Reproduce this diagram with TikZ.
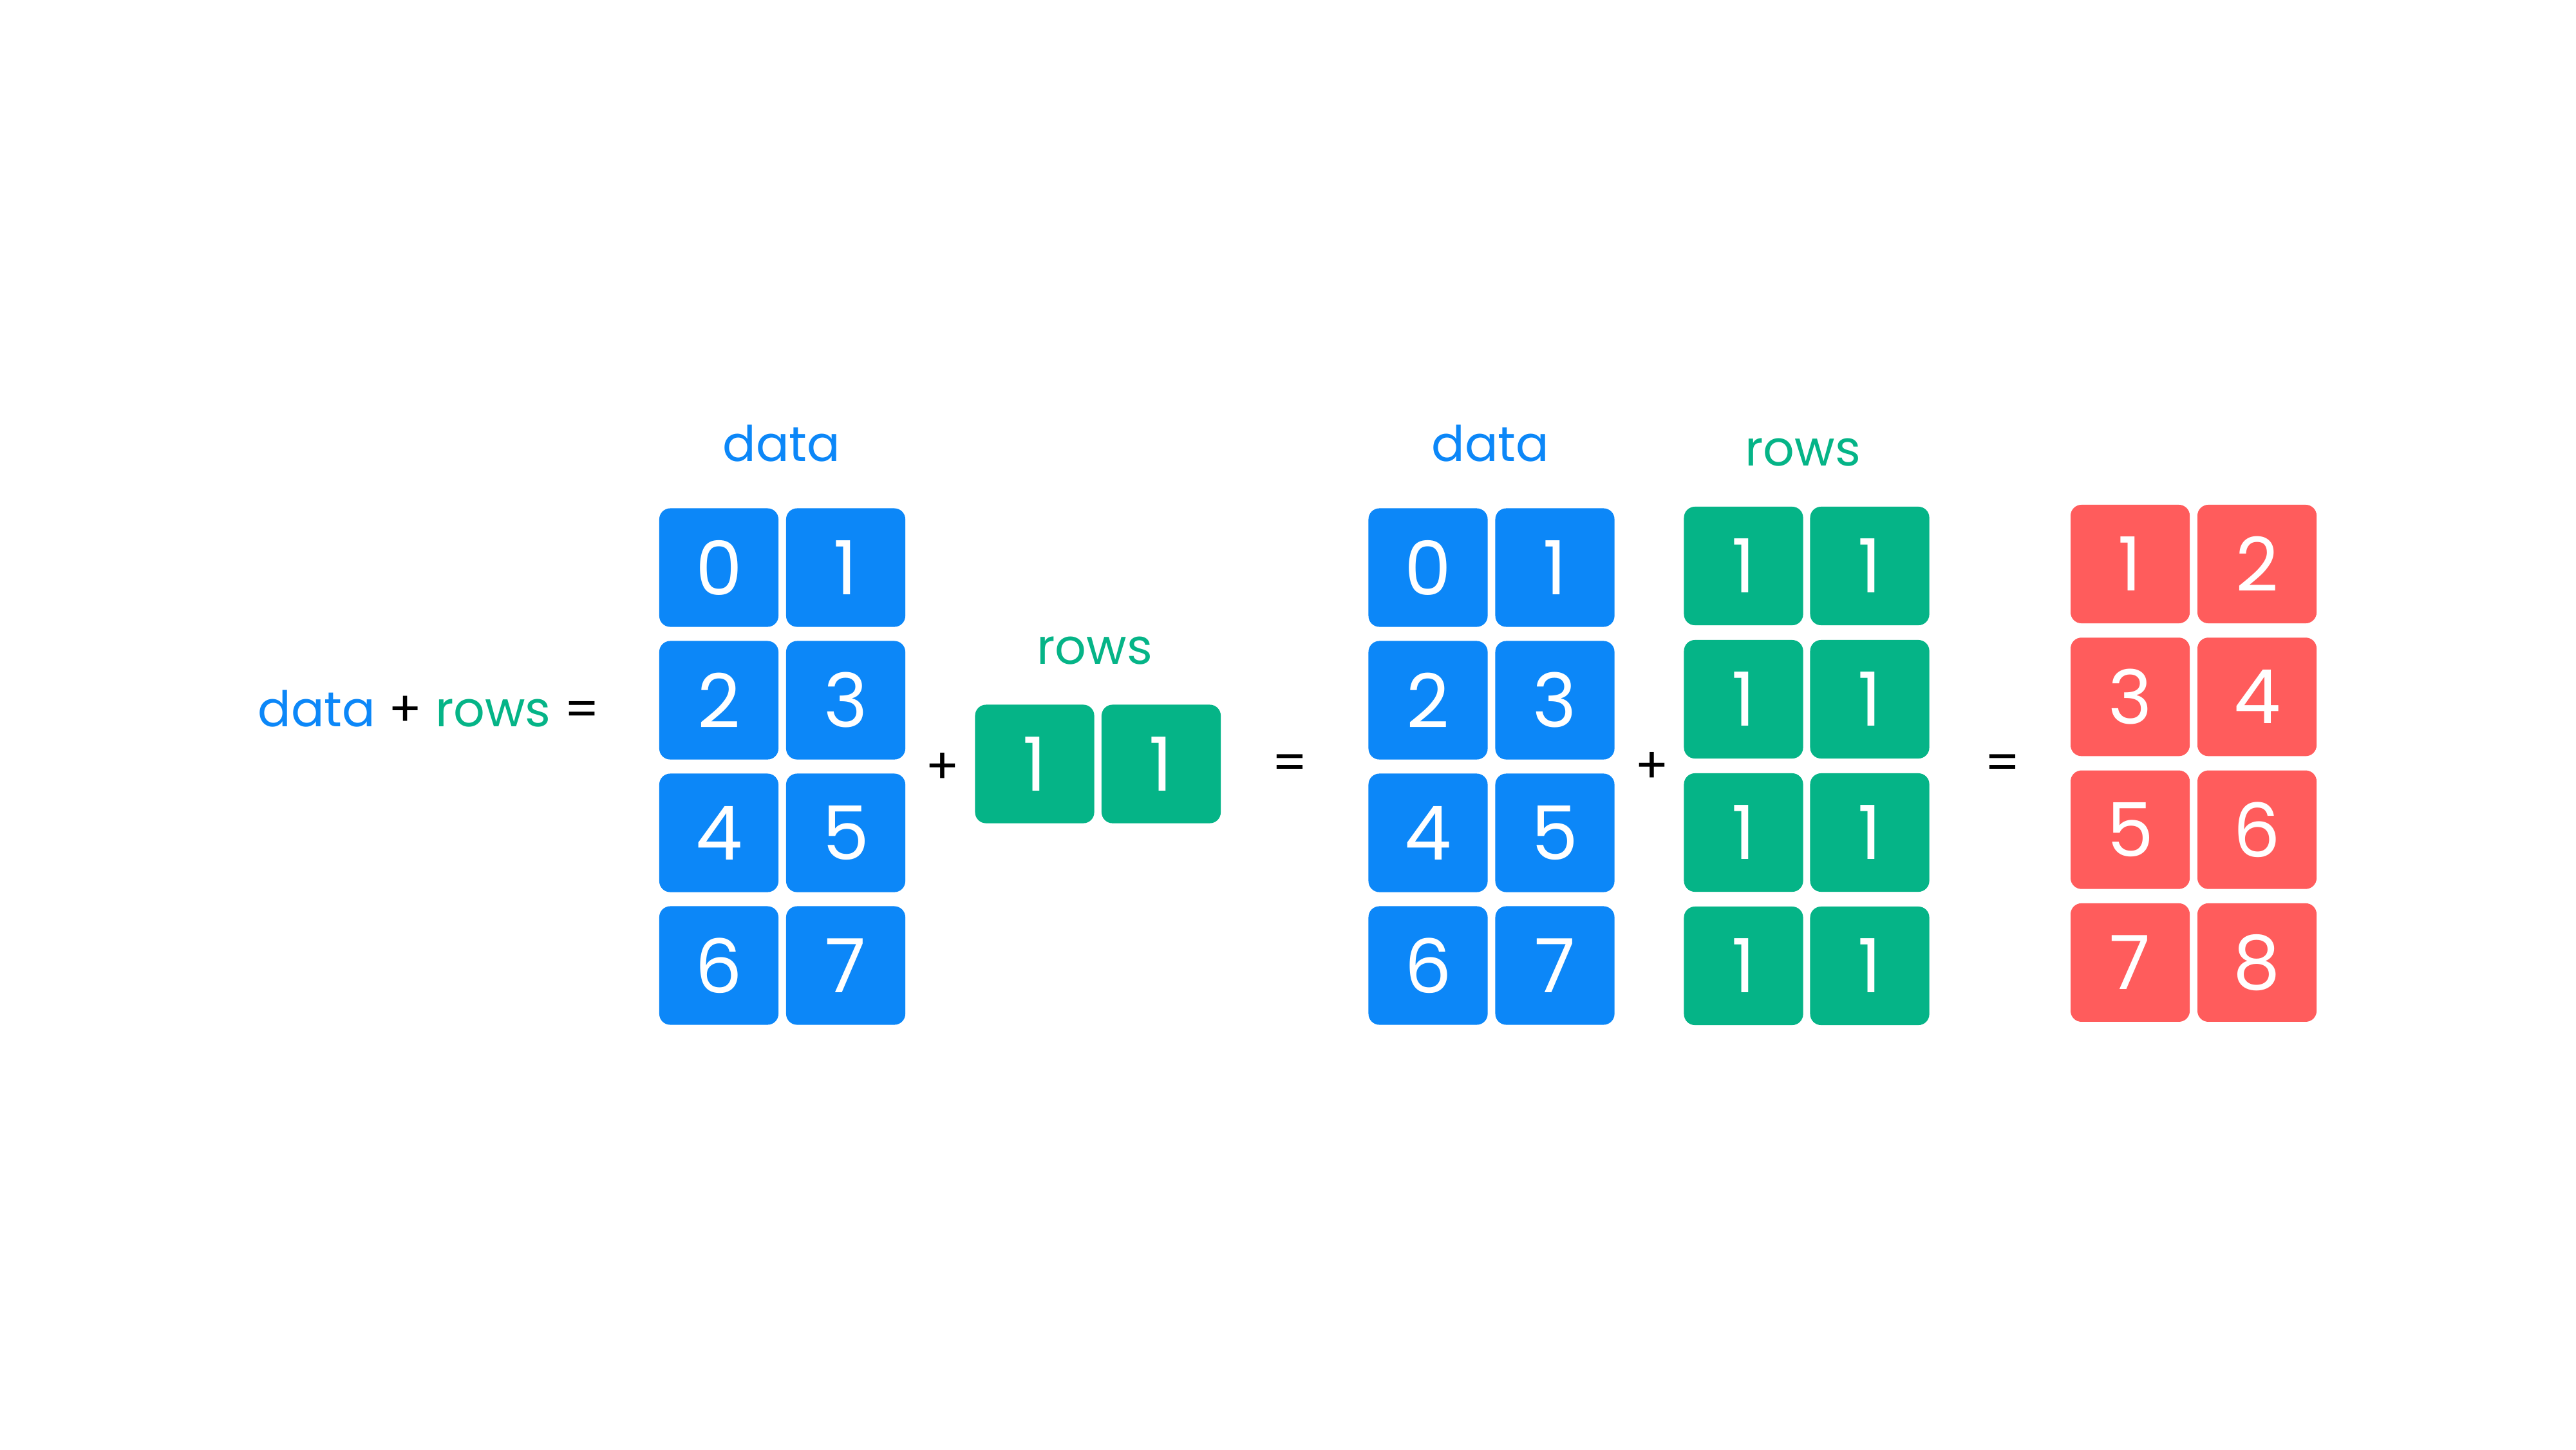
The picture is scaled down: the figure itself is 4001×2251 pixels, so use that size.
\documentclass[tikz,border=0pt]{standalone}
\usepackage{fontspec}
\setmainfont{Poppins}
\definecolor{cblue}{RGB}{12,135,248}
\definecolor{cgreen}{RGB}{5,180,135}
\definecolor{cred}{RGB}{255,92,92}
\tikzset{
  cell/.style={rectangle, rounded corners=0.17cm, minimum width=1.85cm, minimum height=1.84cm,
    inner sep=0pt, text=white, font=\fontsize{33}{33}\selectfont},
  bluecell/.style={cell, fill=cblue},
  greencell/.style={cell, fill=cgreen},
  redcell/.style={cell, fill=cred},
  lbl/.style={anchor=base, inner sep=0pt, font=\fontsize{21.7}{22}\selectfont},
  op/.style={inner sep=0pt, font=\fontsize{22}{22}\selectfont}
}
\begin{document}
\begin{tikzpicture}[x=0.01cm, y=-0.01cm]
\useasboundingbox (0,0) rectangle (4001,2251);
\fill[white] (0,0) rectangle (4001,2251);

% left expression
\node[lbl, anchor=base west] (expr) at (400,1128)
  {\textcolor{cblue}{data} + \textcolor{cgreen}{rows} =};

% first data matrix
\node[lbl, text=cblue] (dataA) at (1214,716) {data};
\foreach \r in {0,...,3}{
  \foreach \c in {0,1}{
    \pgfmathtruncatemacro\v{2*\r+\c}
    \node[bluecell] (A-\r-\c) at ({1116.5+197*\c},{881.5+206*\r}) {\v};
  }
}
\node[op] (plusA) at (1464,1193) {+};

% rows vector
\node[lbl, text=cgreen] (rowsA) at (1700,1031) {rows};
\node[greencell] (R-0) at (1607,1186.5) {1};
\node[greencell] (R-1) at (1803.5,1186.5) {1};

\node[op] (eqA) at (2003,1192) {=};

% second data matrix
\node[lbl, text=cblue] (dataB) at (2315,716) {data};
\foreach \r in {0,...,3}{
  \foreach \c in {0,1}{
    \pgfmathtruncatemacro\v{2*\r+\c}
    \node[bluecell] (B-\r-\c) at ({2218+197*\c},{881.5+206*\r}) {\v};
  }
}
\node[op] (plusB) at (2566,1192) {+};

% broadcast rows
\node[lbl, text=cgreen] (rowsB) at (2800,723) {rows};
\foreach \r in {0,...,3}{
  \foreach \c in {0,1}{
    \node[greencell] (G-\r-\c) at ({2708+196*\c},{879+207*\r}) {1};
  }
}

\node[op] (eqB) at (3110,1192) {=};

% result
\foreach \r in {0,...,3}{
  \foreach \c in {0,1}{
    \pgfmathtruncatemacro\v{2*\r+\c+1}
    \node[redcell] (C-\r-\c) at ({3308.5+197*\c},{876+206.3*\r}) {\v};
  }
}
\end{tikzpicture}
\end{document}
